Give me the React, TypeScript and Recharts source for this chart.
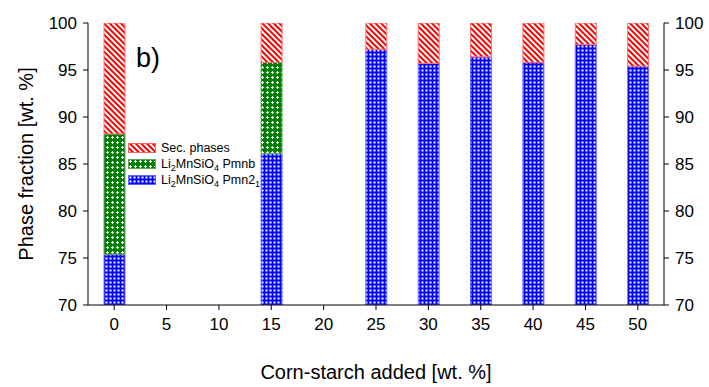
import { BarChart, Bar, XAxis, YAxis, Legend } from 'recharts';

const starch = [0, 15, 25, 30, 35, 40, 45, 50];
const pmn21 = [75.4, 86.1, 97.2, 95.7, 96.4, 95.8, 97.7, 95.4];
const pmnb = [12.8, 9.7, 0, 0, 0, 0, 0, 0];
const secPhases = [11.8, 4.2, 2.8, 4.3, 3.6, 4.2, 2.3, 4.6];
const xTicks = [0, 5, 10, 15, 20, 25, 30, 35, 40, 45, 50];
const yTicks = [70, 75, 80, 85, 90, 95, 100];

const data = starch.map((s, i) => ({
  starch: s,
  pmn21: pmn21[i],
  pmnb: pmnb[i] || null,
  sec: secPhases[i],
}));

const font = '"Liberation Sans", Arial, sans-serif';

const Patterns = ({ p }: { p: string }) => (
  <defs>
    <pattern id={`${p}sec`} width="4" height="4" patternUnits="userSpaceOnUse" patternTransform="rotate(-45)">
      <rect width="4" height="4" fill="#fff" />
      <line x1="1" y1="0" x2="1" y2="4" stroke="#ff0000" strokeWidth="2" />
    </pattern>
    <pattern id={`${p}pmnb`} width="5" height="5" patternUnits="userSpaceOnUse">
      <rect width="5" height="5" fill="#008000" />
      <rect x="2" y="1" width="1" height="3" fill="#fff" />
      <rect x="1" y="2" width="3" height="1" fill="#fff" />
    </pattern>
    <pattern id={`${p}pmn21`} width="4" height="4" patternUnits="userSpaceOnUse">
      <rect width="4" height="4" fill="#0000ff" />
      <rect x="1.5" y="1.5" width="2" height="2" fill="#fff" />
    </pattern>
  </defs>
);

const legendItems = [
  { key: 'sec', label: <>Sec. phases</> },
  { key: 'pmnb', label: <>Li<sub>2</sub>MnSiO<sub>4</sub> Pmnb</> },
  { key: 'pmn21', label: <>Li<sub>2</sub>MnSiO<sub>4</sub> Pmn2<sub>1</sub></> },
];
const legendStroke: Record<string, string> = { sec: '#ff6060', pmnb: '#60a060', pmn21: '#6060ff' };

const PhaseLegend = () => (
  <div style={{ fontFamily: font, fontSize: 12.5, lineHeight: '16px' }}>
    <svg width="0" height="0" style={{ position: 'absolute' }}>
      <Patterns p="lg" />
    </svg>
    {legendItems.map((it) => (
      <div key={it.key} style={{ display: 'flex', alignItems: 'center', height: 16 }}>
        <svg width="28" height="10" style={{ marginRight: 5 }}>
          <rect x="0.5" y="0.5" width="27" height="9" fill={`url(#lg${it.key})`} stroke={legendStroke[it.key]} />
        </svg>
        <span style={{ whiteSpace: 'nowrap' }}>{it.label}</span>
      </div>
    ))}
  </div>
);

export default function App() {
  return (
    <div style={{ width: 709, height: 387, position: 'relative', background: '#fff' }}>
      <style>{`body{margin:0}sub{font-size:9px;vertical-align:-3px;line-height:0}`}</style>
      <BarChart
        width={709}
        height={387}
        data={data}
        margin={{ top: 23, right: 0, left: 28, bottom: 52 }}
        barSize={21}
      >
        <Patterns p="ch" />
        <XAxis
          dataKey="starch"
          type="number"
          domain={[-2.5, 52.5]}
          ticks={xTicks}
          allowDataOverflow
          height={30}
          tickSize={5}
          tickMargin={8}
          stroke="#000"
          tick={{ fill: '#000', fontSize: 17, fontFamily: font }}
          label={{ value: 'Corn-starch added [wt. %]', position: 'insideBottom', offset: -44, fill: '#000', fontSize: 20, fontFamily: font }}
        />
        <XAxis
          xAxisId="top"
          orientation="top"
          type="number"
          domain={[-2.5, 52.5]}
          ticks={xTicks}
          height={0}
          tick={false}
          tickLine={false}
          stroke="#000"
        />
        <YAxis
          type="number"
          domain={[70, 100]}
          ticks={yTicks}
          allowDataOverflow
          width={60}
          tickSize={5}
          tickMargin={6}
          stroke="#000"
          tick={{ fill: '#000', fontSize: 17, fontFamily: font }}
          label={{ value: 'Phase fraction [wt. %]', angle: -90, position: 'insideLeft', offset: -2, style: { textAnchor: 'middle' }, fill: '#000', fontSize: 20, fontFamily: font }}
        />
        <YAxis
          yAxisId="right"
          orientation="right"
          type="number"
          domain={[70, 100]}
          ticks={yTicks}
          allowDataOverflow
          width={45}
          tickSize={5}
          tickMargin={6}
          stroke="#000"
          tick={{ fill: '#000', fontSize: 17, fontFamily: font }}
        />
        <Legend
          layout="vertical"
          align="center"
          verticalAlign="middle"
          wrapperStyle={{ left: 128, top: 140, width: 'auto' }}
          content={<PhaseLegend />}
        />
        <Bar dataKey="pmn21" stackId="a" fill="url(#chpmn21)" stroke="#7070ff" strokeWidth={1} isAnimationActive={false} />
        <Bar dataKey="pmnb" stackId="a" fill="url(#chpmnb)" stroke="#70a070" strokeWidth={1} isAnimationActive={false} />
        <Bar dataKey="sec" stackId="a" fill="url(#chsec)" stroke="#ff7070" strokeWidth={1} isAnimationActive={false} />
        <text x={136} y={67} fontSize={27} fontFamily={font} fill="#000">b)</text>
      </BarChart>
    </div>
  );
}
